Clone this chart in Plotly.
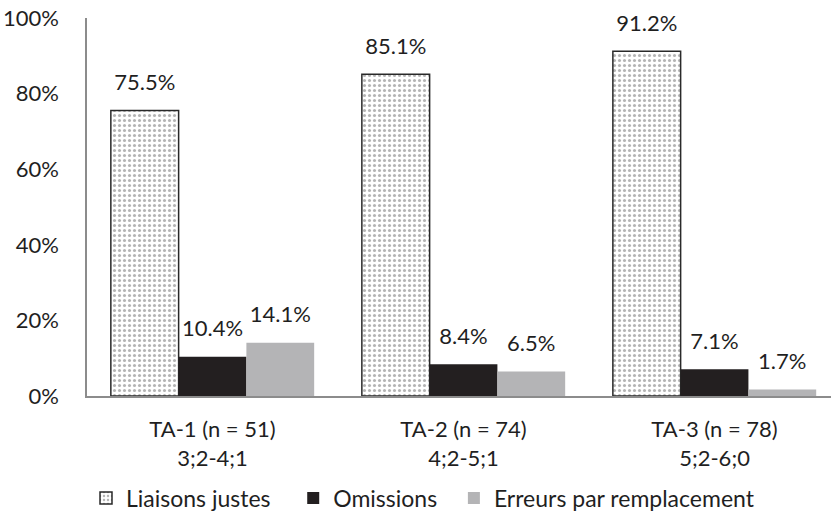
import plotly.graph_objects as go

categories = ["TA-1 (n = 51)<br>3;2-4;1", "TA-2 (n = 74)<br>4;2-5;1", "TA-3 (n = 78)<br>5;2-6;0"]
series_names = ["Liaisons justes", "Omissions", "Erreurs par remplacement"]
liaisons_justes = [75.5, 85.1, 91.2]
omissions = [10.4, 8.4, 7.1]
erreurs = [14.1, 6.5, 1.7]
y_ticks = [0, 20, 40, 60, 80, 100]
y_tick_labels = ["0%", "20%", "40%", "60%", "80%", "100%"]

FONT = "Lato"
TXT = "#1f1f1f"
xs = [0, 1, 2]
PADS = ["\u00a0" * 3, "\u00a0" * 2, ""]

markers = [
    dict(color="white", line=dict(color="#2a2a2a", width=1.5),
         pattern=dict(shape=".", fgcolor="#6a6a6a", bgcolor="white", size=5, solidity=0.3)),
    dict(color="#231f20", line=dict(width=0)),
    dict(color="#b4b4b6", line=dict(width=0)),
]
values = [liaisons_justes, omissions, erreurs]

fig = go.Figure()
for i, (name, vals, marker) in enumerate(zip(series_names, values, markers)):
    fig.add_trace(go.Bar(x=xs, y=vals, name=name + PADS[i], marker=marker,
                         offsetgroup=str(i), hoverinfo="skip"))
for i, (name, vals) in enumerate(zip(series_names, values)):
    fig.add_trace(go.Scatter(
        x=xs, y=vals, mode="markers+text", showlegend=False,
        marker=dict(size=22, opacity=0), offsetgroup=str(i),
        text=[f"{v}%" for v in vals], textposition="top center",
        textfont=dict(family=FONT, size=22, color=TXT), cliponaxis=False,
        hoverinfo="skip",
    ))

fig.update_layout(
    width=831, height=512,
    margin=dict(l=87, r=0, t=18, b=116, autoexpand=False),
    paper_bgcolor="white", plot_bgcolor="white",
    barmode="group", bargap=0.19, bargroupgap=0,
    scattermode="group", scattergap=0.19,
    font=dict(family=FONT, size=22, color=TXT),
    showlegend=True,
    legend=dict(orientation="h", xref="container", yref="container",
                x=86 / 831, xanchor="left", y=14 / 512, yanchor="middle",
                font=dict(family=FONT, size=23, color=TXT), itemwidth=30,
                traceorder="normal", tracegroupgap=0),
    xaxis=dict(range=[-0.5, 2.464], tickvals=xs, ticktext=categories,
               showline=True, linecolor="#8c8c8c", linewidth=1.5,
               showgrid=False, zeroline=False, ticks="", ticklabelstandoff=13,
               tickfont=dict(family=FONT, size=22, color=TXT)),
    yaxis=dict(range=[0, 100], tickvals=y_ticks, ticktext=y_tick_labels,
               showline=True, linecolor="#8c8c8c", linewidth=1.5,
               showgrid=False, zeroline=False, ticks="", ticklabelstandoff=22,
               ticklabeloverflow="allow",
               tickfont=dict(family=FONT, size=22, color=TXT)),
)

fig.write_html("out.html", config={"displayModeBar": False},
               post_script="document.body.style.margin='0px';")
